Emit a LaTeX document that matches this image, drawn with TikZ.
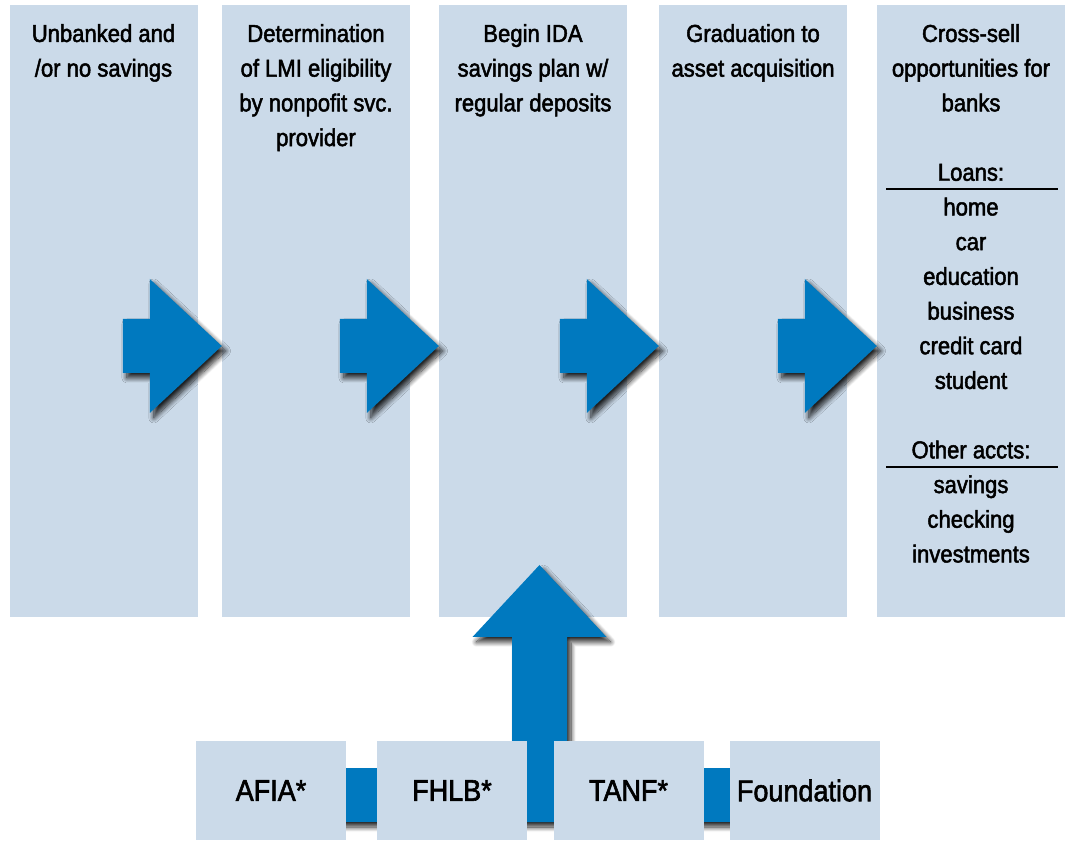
\documentclass[tikz,border=0pt]{standalone}
\usepackage{fontspec}
\setmainfont{Liberation Sans}[FakeStretch=0.9,FakeBold=2]
\usetikzlibrary{shadows.blur}
\definecolor{stagefill}{RGB}{203,218,233}
\definecolor{arrowblue}{RGB}{0,121,191}
\tikzset{
  stage/.style={fill=stagefill, minimum width=188pt, minimum height=612pt, inner sep=0pt},
  stagetext/.style={anchor=north, align=center, inner sep=0pt, font=\fontsize{24.5}{34.7}\selectfont},
  source/.style={fill=stagefill, minimum width=150pt, minimum height=99pt, inner sep=0pt, font=\fontsize{30}{34}\selectfont},
  bigarrow/.style={fill=arrowblue, blur shadow={shadow xshift=4pt, shadow yshift=-5pt, shadow blur radius=5pt, shadow blur steps=10, shadow opacity=85}}
}

\begin{document}
\begin{tikzpicture}[x=1pt,y=1pt]
    \useasboundingbox (0,0) rectangle (1067,840);

      \node[stage] (c1) at (103.5,529) {};
      \node[stage] (c2) at (316,529)   {};
      \node[stage] (c3) at (533,529)   {};
      \node[stage] (c4) at (753,529)   {};
      \node[stage] (c5) at (971,529)   {};

      \node[stagetext] (t1) at (c1 |- 0,816) {Unbanked and\\/or no savings};
      \node[stagetext] (t2) at (c2 |- 0,816) {Determination\\of LMI eligibility\\by nonpofit svc.\\provider};
      \node[stagetext] (t3) at (c3 |- 0,816) {Begin IDA\\savings plan w/\\regular deposits};
      \node[stagetext] (t4) at (c4 |- 0,816) {Graduation to\\asset acquisition};
      \node[stagetext] (t5) at (c5 |- 0,816) {Cross-sell\\opportunities for\\banks\\[34.7pt]Loans:\\home\\car\\education\\business\\credit card\\student\\[34.7pt]Other accts:\\savings\\checking\\investments};

      \draw[line width=2pt] (886,651)   -- (1058,651);
      \draw[line width=2pt] (886,373.3) -- (1058,373.3);

      % arrows between stages
      \foreach \n in {2,...,5}
        \fill[bigarrow] (c\n.west |- 0,494) -- ++(-72,67) -- ++(0,-40) -- ++(-27,0)
          -- ++(0,-54) -- ++(27,0) -- ++(0,-40) -- cycle;

      % sources along the bottom
      \coordinate (afia) at (271,49.5);
      \coordinate (fhlb) at (452,49.5);
      \coordinate (tanf) at (628.5,49.5);
      \coordinate (fdn)  at (804.5,49.5);

      \coordinate (uptip) at (539.5,275);
      \fill[bigarrow] (uptip) -- ++(67,-72) -- ++(-39.5,0) -- ++(0,-185) -- ++(-55,0)
        -- ++(0,185) -- ++(-39.5,0) -- cycle;

      \fill[bigarrow] (afia |- 0,18) rectangle (fhlb |- 0,72);
      \fill[bigarrow] (tanf |- 0,18) rectangle (fdn |- 0,72);

      \node[source] (afiabox) at (afia) {AFIA*};
      \node[source] (fhlbbox) at (fhlb) {FHLB*};
      \node[source] (tanfbox) at (tanf) {TANF*};
      \node[source] (fdnbox)  at (fdn)  {Foundation};
    \end{tikzpicture}
\end{document}
